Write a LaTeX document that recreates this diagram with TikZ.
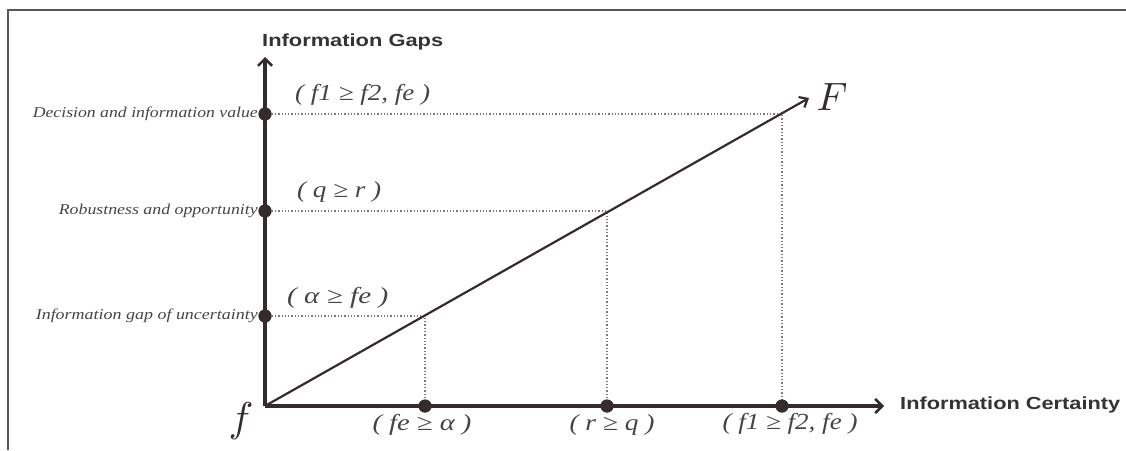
\documentclass[tikz,border=0pt]{standalone}
\usepackage{graphicx}
\usepackage{fontspec}
\setmainfont{Liberation Serif}
\newfontfamily\lsans{Liberation Sans}
\usetikzlibrary{arrows.meta}
\newcommand\fitw[2]{\resizebox{#1}{\height}{#2}}
\definecolor{axc}{HTML}{342C2C}
\definecolor{framec}{HTML}{5A5656}
\definecolor{txtc}{HTML}{333333}
\definecolor{itc}{HTML}{454545}
\definecolor{dotc}{HTML}{7A7A7A}
\tikzset{
  axis/.style={draw=axc, line width=3.2pt, -{Straight Barb[length=7pt,width=14pt,line width=2.6pt]}},
  diag/.style={draw=axc, line width=2.2pt, -{Straight Barb[length=7pt,width=12pt,line width=2.2pt]}},
  guide/.style={draw=dotc, line width=1.3pt, dotted},
  dot/.style={circle, fill=axc, inner sep=0pt, minimum size=13pt},
  axlbl/.style={inner sep=0pt, text=txtc, font=\lsans\bfseries\fontsize{17.5}{20}\selectfont},
  catlbl/.style={inner sep=0pt, text=itc, font=\itshape\fontsize{15}{17}\selectfont, anchor=east},
  relbl/.style={inner sep=0pt, text=itc, font=\itshape\fontsize{23}{26}\selectfont},
  endlbl/.style={inner sep=0pt, text=axc}
}
\begin{document}
\begin{tikzpicture}[x=1pt,y=-1pt]
\useasboundingbox (0,0) rectangle (1126,450);
\draw[framec, line width=2pt] (8,450) -- (8,9.5) -- (1126,9.5);

\coordinate (O) at (265,406);
\coordinate (ytip) at (265,57);
\coordinate (xtip) at (884,406);
\coordinate (Ftip) at (809,98);
\coordinate (p1) at (425,316);
\coordinate (p2) at (607,211);
\coordinate (p3) at (782,114);

\node[dot] (y1) at (265,316) {};
\node[dot] (y2) at (265,211) {};
\node[dot] (y3) at (265,114) {};
\node[dot] (x1) at (425,406) {};
\node[dot] (x2) at (607,406) {};
\node[dot] (x3) at (782,406) {};

\draw[guide] (y1.center) -- (p1) -- (x1.center);
\draw[guide] (y2.center) -- (p2) -- (x2.center);
\draw[guide] (y3.center) -- (p3) -- (x3.center);

\draw[axis] (O) -- (ytip);
\draw[axis] (O) -- (xtip);
\draw[diag] (O) -- (Ftip);

\node[dot] at (y1) {};
\node[dot] at (y2) {};
\node[dot] at (y3) {};
\node[dot] at (x1) {};
\node[dot] at (x2) {};
\node[dot] at (x3) {};

\node[axlbl, anchor=west] (ylab) at (262,42) {\fitw{181pt}{Information Gaps}};
\node[axlbl, anchor=west] (xlab) at (900,405) {\fitw{220pt}{Information Certainty}};

\node[catlbl] (c3) at (258,114) {\fitw{225pt}{Decision and information value}};
\node[catlbl] (c2) at (258,211) {\fitw{199pt}{Robustness and opportunity}};
\node[catlbl] (c1) at (258,316) {\fitw{222pt}{Information gap of uncertainty}};

\node[relbl, anchor=west] (r3) at (295,95) {\fitw{135pt}{( f1 ≥ f2, fe )}};
\node[relbl, anchor=west] (r2) at (297,192) {\fitw{84pt}{( q ≥ r )}};
\node[relbl, anchor=west] (r1) at (287,298) {\fitw{101pt}{( α ≥ fe )}};

\node[relbl] (b1) at (422,425) {\fitw{99pt}{( fe ≥ α )}};
\node[relbl] (b2) at (612,425) {\fitw{85pt}{( r ≥ q )}};
\node[relbl] (b3) at (790,424) {\fitw{135pt}{( f1 ≥ f2, fe )}};

\node[endlbl] (Fl) at (832,97) {\resizebox{!}{27pt}{$F$}};
\node[endlbl] (fl) at (241,421) {\resizebox*{!}{37pt}{$f$}};
\end{tikzpicture}
\end{document}
